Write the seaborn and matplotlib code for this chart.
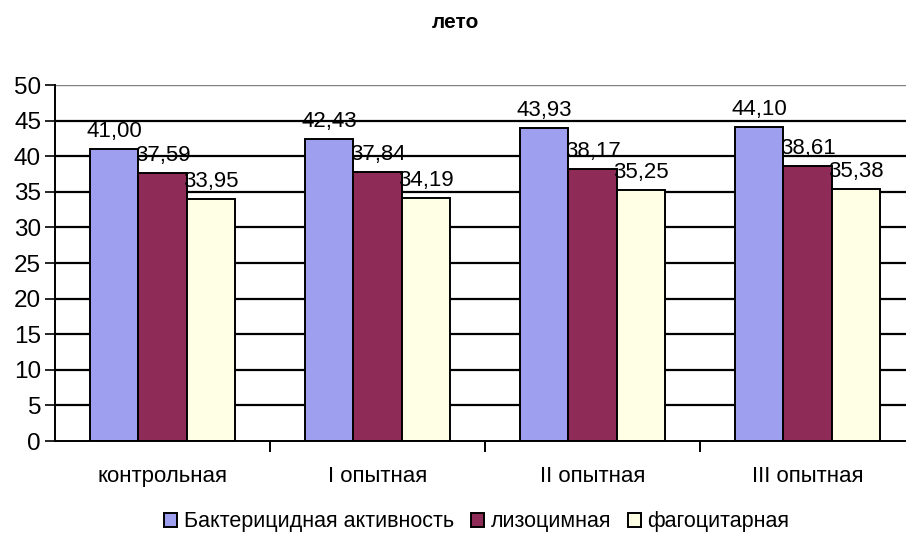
import matplotlib
matplotlib.use("Agg")
import matplotlib.pyplot as plt
import seaborn as sns
import pandas as pd

# Data
categories = ["контрольная", "I опытная", "II опытная", "III опытная"]
series = ["Бактерицидная активность", "лизоцимная", "фагоцитарная"]
bactericidal = [41.00, 42.43, 43.93, 44.10]
lysozyme = [37.59, 37.84, 38.17, 38.61]
phagocytic = [33.95, 34.19, 35.25, 35.38]
colors = ["#9F9FF0", "#8E2B57", "#FFFFE6"]

rows = []
for name, vals in zip(series, [bactericidal, lysozyme, phagocytic]):
    for cat, v in zip(categories, vals):
        rows.append({"group": cat, "series": name, "value": v})
df = pd.DataFrame(rows)

sns.set_style("white")
plt.rcParams["font.family"] = ["Liberation Sans", "DejaVu Sans"]
plt.rcParams["text.color"] = "black"
plt.rcParams["xtick.labelcolor"] = "black"
plt.rcParams["ytick.labelcolor"] = "black"

fig = plt.figure(figsize=(9.06, 5.35), dpi=100)
ax = fig.add_axes([55 / 906, 1 - 441 / 535, 851 / 906, 356 / 535])

sns.barplot(data=df, x="group", y="value", hue="series", order=categories,
            hue_order=series, palette=colors, width=0.672, gap=0,
            edgecolor="black", linewidth=1.4, saturation=1, ax=ax, zorder=3)

# Value labels above every bar
for cont in ax.containers:
    labels = [f"{b.get_height():.2f}".replace(".", ",") for b in cont]
    ax.bar_label(cont, labels=labels, padding=5, fontsize=16, color="black", zorder=4)

ax.set_ylim(0, 50)
ax.set_xlim(-0.5, -0.5 + 851 / 215)
ax.set_yticks(range(0, 51, 5))
for y in range(5, 50, 5):
    ax.axhline(y, color="black", linewidth=1.6, zorder=1)
ax.axhline(50, color="#808080", linewidth=1.0, zorder=1)

ax.tick_params(axis="y", which="major", length=7, width=1.2, color="black",
               labelsize=17.5, left=True, pad=3)
ax.set_xticks([0.5, 1.5, 2.5])
ax.set_xticklabels([])
ax.set_xticks(range(len(categories)), minor=True)
ax.set_xticklabels(categories, minor=True, fontsize=16)
ax.tick_params(axis="x", which="major", length=8, width=1.4, color="black", bottom=True)
ax.tick_params(axis="x", which="minor", length=0, pad=18)

ax.set_xlabel("")
ax.set_ylabel("")
for side in ["top", "right"]:
    ax.spines[side].set_visible(False)
for side in ["left", "bottom"]:
    ax.spines[side].set_color("black")
    ax.spines[side].set_linewidth(1.4)
    ax.spines[side].set_zorder(5)

fig.text(455 / 906, 1 - 22 / 535, "лето", ha="center", va="center",
         fontsize=15, fontweight="bold")

handles, labs = ax.get_legend_handles_labels()
ax.get_legend().remove()
fig.legend(handles, labs, loc="center", bbox_to_anchor=(477 / 906, 1 - 522 / 535),
           ncol=3, frameon=False, fontsize=15.5, handlelength=0.6, handleheight=0.6,
           handletextpad=0.3, columnspacing=0.8)

fig.savefig("out.png", dpi=100)
